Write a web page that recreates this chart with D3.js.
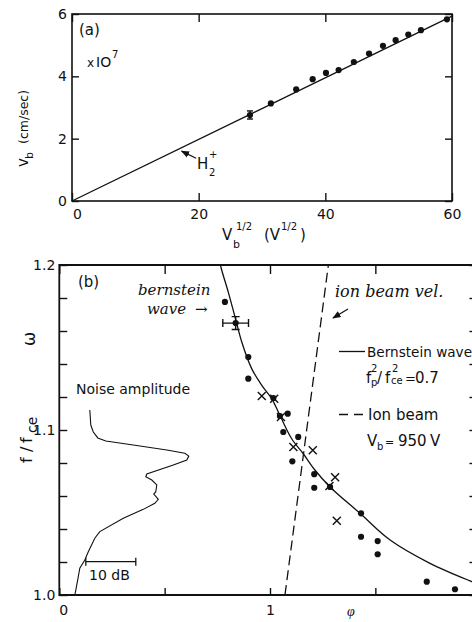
<!DOCTYPE html>
<html>
<head>
<meta charset="utf-8">
<script src="https://cdn.jsdelivr.net/npm/d3@7"></script>
<style>
  html, body { margin: 0; padding: 0; background: #fff; }
  svg { display: block; font-family: "DejaVu Sans", "Liberation Sans", Arial, sans-serif; }
</style>
</head>
<body>
<svg id="chart" width="472" height="622"></svg>
<script>
// ---------- Panel (a): beam velocity vs square root of beam voltage ----------
const sqrtVb = [28.1, 31.4, 35.4, 38.0, 40.1, 42.1, 44.5, 46.9, 49.1, 51.1, 53.1, 55.1, 59.2];
const vBeam  = [2.76, 3.13, 3.58, 3.91, 4.11, 4.20, 4.46, 4.73, 4.98, 5.16, 5.34, 5.48, 5.83];
const vBeamErr = [0.13, 0, 0, 0, 0, 0, 0, 0, 0, 0, 0, 0, 0];
const fitSqrtVb = [0, 60];
const fitVBeam  = [0, 5.93];
const aTicksX = [0, 20, 40, 60];
const aTicksY = [0, 2, 4, 6];

// ---------- Panel (b): dispersion f/fce vs phi ----------
const bernPhi = [0.760, 0.767, 0.802, 0.834, 0.866, 0.913, 0.961, 1.008, 1.047, 1.103, 1.158, 1.214, 1.285, 1.427, 1.570, 1.759, 1.958, 2.0];
const bernF   = [1.2040, 1.1988, 1.1836, 1.1685, 1.1533, 1.1372, 1.1271, 1.1190, 1.1089, 1.0947, 1.0856, 1.0756, 1.0655, 1.0495, 1.0333, 1.0192, 1.0081, 1.0060];
const beamPhi = [1.071, 1.277];
const beamF   = [1.0, 1.2];
const dotPhi = [0.786, 0.837, 0.897, 0.897, 1.016, 1.084, 1.047, 1.063, 1.134, 1.106, 1.210, 1.210, 1.285, 1.432, 1.432, 1.511, 1.511, 1.744, 1.878];
const dotF   = [1.1776, 1.1648, 1.1442, 1.1311, 1.1194, 1.1099, 1.1085, 1.0988, 1.0958, 1.0810, 1.0732, 1.0650, 1.0655, 1.0495, 1.0353, 1.0327, 1.0247, 1.0081, 1.0035];
const dotPhiErr = [0, 0.061, 0, 0, 0, 0, 0, 0, 0, 0, 0, 0, 0, 0, 0, 0, 0, 0, 0];
const dotFErr   = [0, 0.0039, 0, 0, 0, 0, 0, 0, 0, 0, 0, 0, 0, 0, 0, 0, 0, 0, 0];
const crossPhi = [0.961, 1.020, 1.052, 1.111, 1.203, 1.309, 1.282, 1.317];
const crossF   = [1.1206, 1.1190, 1.1079, 1.0897, 1.0877, 1.0713, 1.0660, 1.0450];
// noise spectrum: amplitude (dB above the axis) against f/fce
const noiseDb = [6.1, 6.3, 6.8, 7.7, 9.3, 14.8, 21.5, 25.1, 25.9, 25.5, 22.8, 17.5, 17.3, 18.5, 19.5, 19.3, 18.9, 19.8, 19.1, 16.8, 12.8, 8.1, 7.1, 5.8, 5.1, 4.1, 3.8, 3.3, 3.1];
const noiseF  = [1.1121, 1.1030, 1.0988, 1.0952, 1.0933, 1.0909, 1.0879, 1.0859, 1.0842, 1.0818, 1.0788, 1.0733, 1.0717, 1.0697, 1.0667, 1.0626, 1.0612, 1.0580, 1.0556, 1.0519, 1.0465, 1.0384, 1.0344, 1.0262, 1.0212, 1.0162, 1.0111, 1.0030, 1.0];
const scaleBarDb = 10;
const bTicksX = [0, 0.5, 1, 1.5];
const bTicksY = d3.range(0, 11).map(i => +(1 + i * 0.02).toFixed(2));

const ink = "#111";
const svg = d3.select("#chart");
svg.append("rect").attr("width", 472).attr("height", 622).attr("fill", "#fff");

function styleAxis(g) {
  g.select(".domain").remove();
  g.selectAll(".tick line").attr("stroke", ink).attr("stroke-width", 1.4);
  g.selectAll(".tick text").attr("fill", ink).attr("font-size", 14)
    .attr("font-family", "'DejaVu Sans', 'Liberation Sans', Arial, sans-serif");
}
function rich(parent, items, attrs) {
  const t = parent.append("text").attr("fill", ink);
  Object.entries(attrs || {}).forEach(([k, v]) => t.attr(k, v));
  items.forEach(([s, x, y, size]) => t.append("tspan").attr("x", x).attr("y", y).attr("font-size", size).text(s));
  return t;
}

// ===== Panel (a) =====
const xA = d3.scaleLinear().domain([0, 60]).range([72, 452]);
const yA = d3.scaleLinear().domain([0, 6]).range([201, 14]);
const gA = svg.append("g");

gA.append("g").attr("transform", `translate(${xA(0)},0)`)
  .call(d3.axisLeft(yA).tickValues(aTicksY).tickSize(-7).tickPadding(5).tickFormat(d3.format("d"))).call(styleAxis);
gA.append("g").attr("transform", `translate(${xA(60)},0)`)
  .call(d3.axisRight(yA).tickValues(aTicksY).tickSize(-7).tickFormat("")).call(styleAxis);
const axBA = gA.append("g").attr("transform", `translate(0,${yA(0)})`)
  .call(d3.axisBottom(xA).tickValues(aTicksX).tickSize(-8).tickPadding(8).tickFormat(d3.format("d"))).call(styleAxis);
axBA.selectAll(".tick text").filter(d => d === 0).attr("dx", 5);
gA.append("g").attr("transform", `translate(0,${yA(6)})`)
  .call(d3.axisTop(xA).tickValues(aTicksX).tickSize(-8).tickFormat("")).call(styleAxis);

gA.append("rect").attr("x", xA(0)).attr("y", yA(6))
  .attr("width", xA(60) - xA(0)).attr("height", yA(0) - yA(6))
  .attr("fill", "none").attr("stroke", ink).attr("stroke-width", 1.6);

// fitted line
gA.append("path").datum(d3.zip(fitSqrtVb, fitVBeam))
  .attr("d", d3.line().x(d => xA(d[0])).y(d => yA(d[1])))
  .attr("fill", "none").attr("stroke", ink).attr("stroke-width", 1.3);

// error bars
const ptsA = d3.zip(sqrtVb, vBeam, vBeamErr);
gA.selectAll("g.errA").data(ptsA.filter(d => d[2] > 0)).join("g").attr("class", "errA")
  .each(function (d) {
    const g = d3.select(this);
    const x = xA(d[0]);
    g.append("line").attr("x1", x).attr("x2", x).attr("y1", yA(d[1] - d[2])).attr("y2", yA(d[1] + d[2]));
    g.append("line").attr("x1", x - 3).attr("x2", x + 3).attr("y1", yA(d[1] - d[2])).attr("y2", yA(d[1] - d[2]));
    g.append("line").attr("x1", x - 3).attr("x2", x + 3).attr("y1", yA(d[1] + d[2])).attr("y2", yA(d[1] + d[2]));
  }).selectAll("line").attr("stroke", ink).attr("stroke-width", 1.4);
gA.selectAll("circle.ptA").data(ptsA).join("circle").attr("class", "ptA")
  .attr("cx", d => xA(d[0])).attr("cy", d => yA(d[1])).attr("r", 3.1).attr("fill", ink);

// H2+ pointer
const defs = svg.append("defs");
defs.append("marker").attr("id", "head").attr("viewBox", "0 0 10 10").attr("refX", 9).attr("refY", 5)
  .attr("markerWidth", 7).attr("markerHeight", 7).attr("orient", "auto")
  .append("path").attr("d", "M0,1 L10,5 L0,9 Z").attr("fill", ink);
gA.append("line").attr("x1", xA(19.6)).attr("y1", yA(1.37)).attr("x2", xA(17.3)).attr("y2", yA(1.6))
  .attr("stroke", ink).attr("stroke-width", 1.2).attr("marker-end", "url(#head)");
rich(gA, [["H", 197, 169, 15]]);
rich(gA, [["+", 209, 158, 10]]);
rich(gA, [["2", 209, 176, 10]]);

rich(gA, [["(a)", 79, 35, 15]]);
rich(gA, [["x", 87, 67, 12]]);
rich(gA, [["IO", 96, 67, 14], ["7", 112, 58, 10]]);
rich(gA, [["V", 222, 240, 15], ["b", 233, 248, 11], ["1/2", 236, 230, 10]]);
rich(gA, [["(V", 264, 240, 15], ["1/2", 281, 230, 10], [")", 300, 240, 15]]);
rich(gA, [["v", -37, 0, 15], ["b", -29, 5, 11]], { transform: "translate(28,130) rotate(-90)" });
rich(gA, [["(cm/sec)", -14, 0, 12.5]], { transform: "translate(28,130) rotate(-90)" });

// ===== Panel (b) =====
const xB = d3.scaleLinear().domain([0, 2]).range([59.3, 480.7]);
const yB = d3.scaleLinear().domain([1.0, 1.2]).range([595, 265]);
const xNoise = d3.scaleLinear().domain([0, 10]).range([xB(0), xB(0) + 50]);
const phiRight = 1.98;
const gB = svg.append("g");

defs.append("clipPath").attr("id", "clipB").append("rect")
  .attr("x", xB(0)).attr("y", yB(1.2)).attr("width", xB(phiRight) - xB(0)).attr("height", yB(1.0) - yB(1.2));

gB.append("g").attr("transform", `translate(${xB(0)},0)`)
  .call(d3.axisLeft(yB).tickValues(bTicksY).tickSize(-8).tickPadding(4)
    .tickFormat(d => (Math.abs(d * 10 - Math.round(d * 10)) < 1e-6 ? d3.format(".1f")(d) : ""))).call(styleAxis);
gB.append("g").attr("transform", `translate(${xB(phiRight)},0)`)
  .call(d3.axisRight(yB).tickValues(bTicksY).tickSize(-7).tickFormat("")).call(styleAxis);
const axBB = gB.append("g").attr("transform", `translate(0,${yB(1.0)})`)
  .call(d3.axisBottom(xB).tickValues(bTicksX).tickSize(-7).tickPadding(10)
    .tickFormat(d => (d === 0 || d === 1 ? d3.format("d")(d) : ""))).call(styleAxis);
axBB.selectAll(".tick text").filter(d => d === 0).attr("dx", 4);
gB.append("g").attr("transform", `translate(0,${yB(1.2)})`)
  .call(d3.axisTop(xB).tickValues(bTicksX).tickSize(-9).tickFormat("")).call(styleAxis);

gB.append("path")
  .attr("d", `M${xB(phiRight)},${yB(1.2)} H${xB(0)} V${yB(1.0)} H${xB(phiRight)}`)
  .attr("fill", "none").attr("stroke", ink).attr("stroke-width", 1.8);

const plotB = gB.append("g").attr("clip-path", "url(#clipB)");

// theory curve
plotB.append("path").datum(d3.zip(bernPhi, bernF))
  .attr("d", d3.line().x(d => xB(d[0])).y(d => yB(d[1])).curve(d3.curveCatmullRom.alpha(0.5)))
  .attr("fill", "none").attr("stroke", ink).attr("stroke-width", 1.3);
// ion beam line
plotB.append("path").datum(d3.zip(beamPhi, beamF))
  .attr("d", d3.line().x(d => xB(d[0])).y(d => yB(d[1])))
  .attr("fill", "none").attr("stroke", ink).attr("stroke-width", 1.3).attr("stroke-dasharray", "10,5");
// noise spectrum
plotB.append("path").datum(d3.zip(noiseDb, noiseF))
  .attr("d", d3.line().x(d => xNoise(d[0])).y(d => yB(d[1])))
  .attr("fill", "none").attr("stroke", ink).attr("stroke-width", 1.1);

// measured points with error bars
const ptsB = d3.zip(dotPhi, dotF, dotPhiErr, dotFErr);
plotB.selectAll("g.errB").data(ptsB.filter(d => d[2] > 0 || d[3] > 0)).join("g").attr("class", "errB")
  .each(function (d) {
    const g = d3.select(this);
    const x = xB(d[0]), y = yB(d[1]);
    const xl = xB(d[0] - d[2]), xr = xB(d[0] + d[2]);
    const yt = yB(d[1] + d[3]), yb = yB(d[1] - d[3]);
    g.append("line").attr("x1", xl).attr("x2", xr).attr("y1", y).attr("y2", y);
    g.append("line").attr("x1", xl).attr("x2", xl).attr("y1", y - 4).attr("y2", y + 4);
    g.append("line").attr("x1", xr).attr("x2", xr).attr("y1", y - 4).attr("y2", y + 4);
    g.append("line").attr("x1", x).attr("x2", x).attr("y1", yt).attr("y2", yb);
    g.append("line").attr("x1", x - 4).attr("x2", x + 4).attr("y1", yt).attr("y2", yt);
    g.append("line").attr("x1", x - 4).attr("x2", x + 4).attr("y1", yb).attr("y2", yb);
  }).selectAll("line").attr("stroke", ink).attr("stroke-width", 1.4);
plotB.selectAll("circle.ptB").data(ptsB).join("circle").attr("class", "ptB")
  .attr("cx", d => xB(d[0])).attr("cy", d => yB(d[1])).attr("r", 3.1).attr("fill", ink);
plotB.selectAll("path.cross").data(d3.zip(crossPhi, crossF)).join("path").attr("class", "cross")
  .attr("d", d => {
    const x = xB(d[0]), y = yB(d[1]), s = 4;
    return `M${x - s},${y - s}L${x + s},${y + s}M${x - s},${y + s}L${x + s},${y - s}`;
  })
  .attr("fill", "none").attr("stroke", ink).attr("stroke-width", 1.4);

// 10 dB scale bar
const barY = yB(1.0202);
const barX0 = xNoise(5.3), barX1 = xNoise(5.3 + scaleBarDb);
const bar = gB.append("g").attr("stroke", ink).attr("stroke-width", 1.3);
bar.append("line").attr("x1", barX0).attr("x2", barX1).attr("y1", barY).attr("y2", barY);
bar.append("line").attr("x1", barX0).attr("x2", barX0).attr("y1", barY - 4).attr("y2", barY + 4);
bar.append("line").attr("x1", barX1).attr("x2", barX1).attr("y1", barY - 4).attr("y2", barY + 4);
rich(gB, [[`${scaleBarDb} dB`, 89, 580, 14]]);

rich(gB, [["Noise amplitude", 76, 394, 14]]);
rich(gB, [["(b)", 78, 287, 15]]);

// legend
const leg = gB.append("g");
leg.append("line").attr("x1", 339).attr("x2", 365).attr("y1", 351.5).attr("y2", 351.5)
  .attr("stroke", ink).attr("stroke-width", 1.3);
rich(leg, [["Bernstein wave", 367, 357, 13.6]]);
rich(leg, [["f", 366, 383, 15], ["/", 377, 383, 15], ["f", 385, 383, 15]]);
rich(leg, [["2", 371, 372, 10]]);
rich(leg, [["p", 371, 386, 10]]);
rich(leg, [["2", 392, 372, 10]]);
rich(leg, [["ce", 391, 384, 10]]);
rich(leg, [["=", 405, 383, 13]]);
rich(leg, [["0.7", 415, 383, 15]]);
leg.append("line").attr("x1", 339).attr("x2", 366).attr("y1", 414.5).attr("y2", 414.5)
  .attr("stroke", ink).attr("stroke-width", 1.3).attr("stroke-dasharray", "9,6");
rich(leg, [["Ion beam", 368, 420, 15]]);
rich(leg, [["V", 367, 446, 15], ["b", 377, 450, 10]]);
rich(leg, [["=", 385, 446, 11]]);
rich(leg, [["950", 398, 446, 15], ["V", 430, 446, 15]]);

// axis titles
rich(gB, [["f", -28, 0, 16], ["/", -17, 0, 16], ["f", -8, 0, 16], ["ce", 2, 5, 14]],
     { transform: "translate(32,435) rotate(-90)" });
rich(gB, [["ω", -6, 0, 17]], { transform: "translate(35,340) rotate(-90)" });
rich(gB, [["φ", 347, 616, 14]], { "font-style": "italic", "font-family": "'Liberation Serif', serif" });

// handwritten notes
const hand = { "font-style": "italic", "font-family": "'DejaVu Serif', 'Liberation Serif', serif" };
rich(gB, [["bernstein", 138, 295, 15]], hand);
rich(gB, [["wave", 147, 314, 15]], hand);
rich(gB, [["→", 195, 314, 15]], hand);
rich(gB, [["ion beam vel.", 335, 297, 16]], hand);
gB.append("line").attr("x1", 348).attr("y1", 309).attr("x2", 333).attr("y2", 318)
  .attr("stroke", ink).attr("stroke-width", 1.2).attr("marker-end", "url(#head)");
</script>
</body>
</html>
